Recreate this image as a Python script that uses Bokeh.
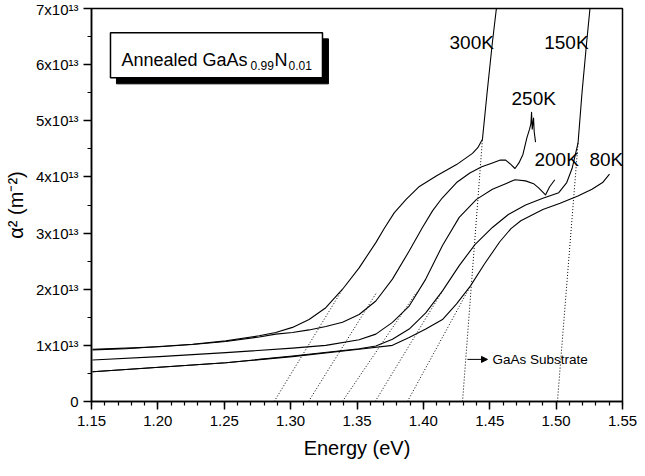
from bokeh.plotting import figure
from bokeh.models import Range1d, FixedTicker, Arrow, NormalHead
from bokeh.core.properties import value
from bokeh.embed import file_html
from bokeh.resources import INLINE

FONT = "Liberation Sans"

# ---------------- data (alpha^2 in units of 1e13 m^-2) ----------------
e_300 = [1.1508, 1.1759, 1.2010, 1.2261, 1.2512, 1.2763, 1.2888, 1.3014, 1.3139, 1.3265,
         1.3391, 1.3516, 1.3642, 1.3705, 1.3780, 1.3870, 1.3970, 1.4100, 1.4250, 1.4370,
         1.4410, 1.4445, 1.4480, 1.4520, 1.4550]
a_300 = [0.92, 0.94, 0.98, 1.02, 1.08, 1.17, 1.23, 1.32, 1.46, 1.67,
         2.00, 2.38, 2.83, 3.08, 3.36, 3.60, 3.83, 4.02, 4.22, 4.42,
         4.52, 4.67, 5.50, 6.40, 7.00]

e_250 = [1.1508, 1.1759, 1.2010, 1.2261, 1.2512, 1.2763, 1.2888, 1.3014, 1.3139, 1.3265,
         1.3391, 1.3516, 1.3642, 1.3767, 1.3893, 1.3993, 1.4070, 1.4140, 1.4250, 1.4350,
         1.4440, 1.4520, 1.4580, 1.4620, 1.4660, 1.4690, 1.4720, 1.4750, 1.4780, 1.4800,
         1.4810, 1.4815, 1.4820, 1.4830, 1.4835, 1.4845]
a_250 = [0.93, 0.95, 0.975, 1.015, 1.07, 1.15, 1.20, 1.23, 1.275, 1.335,
         1.41, 1.55, 1.79, 2.18, 2.68, 3.10, 3.40, 3.62, 3.90, 4.07,
         4.18, 4.25, 4.30, 4.30, 4.22, 4.15, 4.25, 4.40, 4.70, 4.85,
         4.95, 5.15, 4.85, 5.05, 4.80, 4.62]

e_200 = [1.1508, 1.2010, 1.2512, 1.3014, 1.3265, 1.3516, 1.3642, 1.3767, 1.3893, 1.4018,
         1.4144, 1.4270, 1.4400, 1.4520, 1.4620, 1.4690, 1.4770, 1.4830, 1.4870, 1.4920,
         1.4950, 1.4990]
a_200 = [0.74, 0.80, 0.87, 0.95, 1.00, 1.10, 1.20, 1.41, 1.70, 2.18,
         2.78, 3.28, 3.60, 3.78, 3.88, 3.95, 3.93, 3.88, 3.80, 3.68,
         3.82, 3.95]

e_150 = [1.1508, 1.2010, 1.2512, 1.3014, 1.3516, 1.3642, 1.3767, 1.3893, 1.4018, 1.4144,
         1.4270, 1.4390, 1.4520, 1.4640, 1.4770, 1.4900, 1.5020, 1.5080, 1.5120, 1.5165,
         1.5195, 1.5230, 1.5255]
a_150 = [0.53, 0.61, 0.69, 0.81, 0.94, 0.99, 1.11, 1.29, 1.58, 1.97,
         2.42, 2.80, 3.10, 3.33, 3.50, 3.62, 3.72, 3.90, 4.15, 4.60,
         5.50, 6.40, 7.00]

e_80 = [1.1508, 1.2010, 1.2512, 1.3014, 1.3516, 1.3767, 1.3893, 1.4018, 1.4144, 1.4250,
        1.4355, 1.4460, 1.4577, 1.4660, 1.4734, 1.4900, 1.5030, 1.5164, 1.5270, 1.5350,
        1.5402]
a_80 = [0.53, 0.61, 0.69, 0.80, 0.93, 1.00, 1.14, 1.29, 1.46, 1.74,
        2.06, 2.45, 2.85, 3.08, 3.22, 3.42, 3.53, 3.66, 3.78, 3.90,
        4.05]

# extrapolation (dotted) lines: start on the energy axis, end on the curve
fit_e0 = [1.2876, 1.3135, 1.3390, 1.3637, 1.3880, 1.4295, 1.5010]
fit_a0 = [0, 0, 0, 0, 0, 0, 0]
fit_e1 = [1.3391, 1.3650, 1.3950, 1.4144, 1.4355, 1.4445, 1.5165]
fit_a1 = [2.00, 1.95, 1.95, 1.97, 2.06, 4.67, 4.60]

# curve labels
lab_text = ["300K", "150K", "250K", "200K", "80K"]
lab_e = [1.4197, 1.4910, 1.4664, 1.4837, 1.5251]
lab_a = [6.39, 6.39, 5.39, 4.31, 4.31]

# ticks
x_ticks = [1.15, 1.20, 1.25, 1.30, 1.35, 1.40, 1.45, 1.50, 1.55]
x_tick_labels = ["1.15", "1.20", "1.25", "1.30", "1.35", "1.40", "1.45", "1.50", "1.55"]
y_ticks = [0, 1, 2, 3, 4, 5, 6, 7]
y_tick_labels = ["0", "1x10¹³", "2x10¹³", "3x10¹³", "4x10¹³", "5x10¹³", "6x10¹³", "7x10¹³"]

# ---------------- figure ----------------
p = figure(width=637, height=468, output_backend="svg", toolbar_location=None,
           x_range=Range1d(1.15, 1.55), y_range=Range1d(0, 7),
           min_border_left=91, min_border_right=15, min_border_top=8, min_border_bottom=67,
           x_axis_label="Energy (eV)", y_axis_label="α² (m⁻²)")
p.xgrid.visible = False
p.ygrid.visible = False
p.background_fill_color = "white"
p.border_fill_color = "white"
p.outline_line_color = "black"
p.outline_line_width = 1.5
p.outline_line_alpha = 1.0

x_minor = [round(1.15 + 0.01 * i, 2) for i in range(41)]
y_minor = [0.5 * i for i in range(15)]
p.xaxis.ticker = FixedTicker(ticks=x_ticks, minor_ticks=x_minor)
p.yaxis.ticker = FixedTicker(ticks=y_ticks, minor_ticks=y_minor)
p.xaxis.major_label_overrides = dict(zip(x_ticks, x_tick_labels))
p.yaxis.major_label_overrides = dict(zip(y_ticks, y_tick_labels))

for ax in (p.xaxis, p.yaxis):
    ax.axis_line_width = 1.5
    ax.axis_line_color = "black"
    ax.major_tick_in = 0
    ax.major_tick_out = 8
    ax.minor_tick_in = 0
    ax.minor_tick_out = 4
    ax.major_tick_line_width = 1.5
    ax.minor_tick_line_width = 1.2
    ax.major_tick_line_color = "black"
    ax.minor_tick_line_color = "black"
    ax.major_label_text_font = FONT
    ax.major_label_text_font_size = "15px"
    ax.major_label_text_color = "black"
    ax.axis_label_text_font = FONT
    ax.axis_label_text_font_size = "20px"
    ax.axis_label_text_font_style = "normal"
    ax.axis_label_text_color = "black"
p.xaxis.major_label_standoff = 6
p.yaxis.major_label_standoff = 5
p.xaxis.axis_label_standoff = 8
p.yaxis.axis_label_standoff = 6

# curves
for e, a in ((e_300, a_300), (e_250, a_250), (e_200, a_200), (e_150, a_150), (e_80, a_80)):
    p.line(e, a, line_color="black", line_width=1.1, line_join="round")

# dotted extrapolations
p.segment(x0=fit_e0, y0=fit_a0, x1=fit_e1, y1=fit_a1,
          line_color="black", line_width=1, line_dash="1 2")

# curve labels
p.text(x=lab_e, y=lab_a, text=lab_text, text_font=value(FONT), text_font_size="19px",
       text_baseline="middle", text_align="left", text_color="black")

# sample box with shadow
bx0, bx1, by0, by1 = 1.1643, 1.3240, 5.765, 6.566
sdx, sdy = 0.0045, 0.107
p.quad(left=[bx0 + sdx], right=[bx1 + sdx], bottom=[by0 - sdy], top=[by1 - sdy],
       fill_color="black", line_color="black")
p.quad(left=[bx0], right=[bx1], bottom=[by0], top=[by1],
       fill_color="white", line_color="black", line_width=1.5)
tx, ty = 1.1726, 6.09
p.text(x=[tx, tx], y=[ty, ty], text=["Annealed GaAs", "N"], x_offset=[0, 153],
       text_font=value(FONT), text_font_size="18px", text_baseline="alphabetic",
       text_color="black")
p.text(x=[tx, tx], y=[ty, ty], text=["0.99", "0.01"], x_offset=[129, 167], y_offset=[6, 6],
       text_font=value(FONT), text_font_size="12px", text_baseline="alphabetic",
       text_color="black")

# GaAs substrate annotation
p.add_layout(Arrow(end=NormalHead(size=6, fill_color="black", line_color="black"),
                   x_start=1.4332, y_start=0.75, x_end=1.4483, y_end=0.75,
                   line_color="black", line_width=1))
p.text(x=[1.4520], y=[0.75], text=["GaAs Substrate"], text_font=value(FONT),
       text_font_size="13.5px", text_baseline="middle", text_color="black")

open("out.html", "w").write(file_html(p, INLINE))
